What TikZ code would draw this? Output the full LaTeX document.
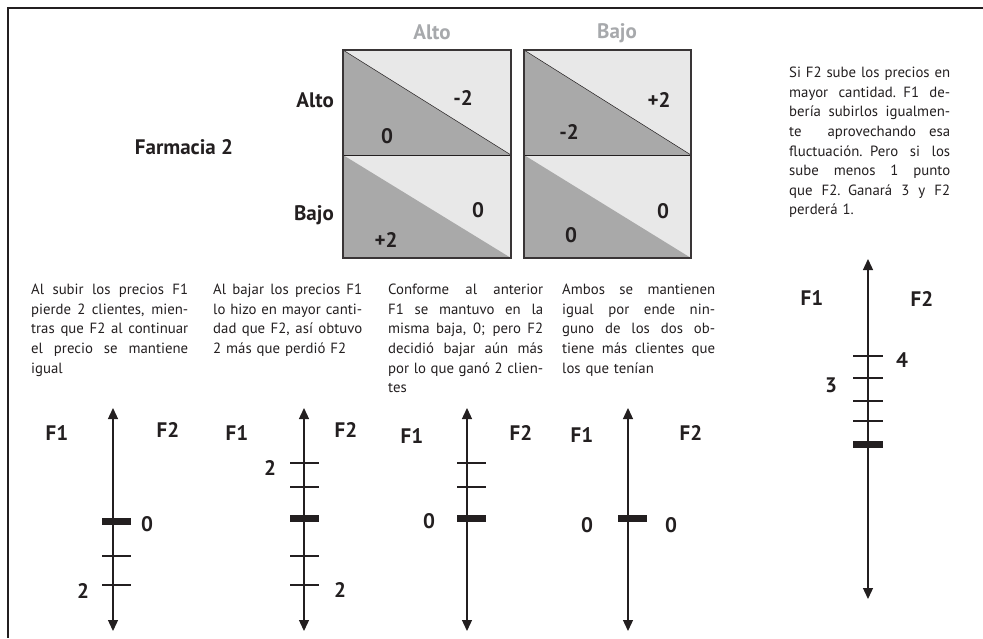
\documentclass[tikz,border=0pt]{standalone}
\usepackage{fontspec}
\setmainfont{PT Sans}
\usetikzlibrary{arrows.meta}
\definecolor{ink}{HTML}{231F20}
\definecolor{lightc}{HTML}{E8E8E8}
\definecolor{darkc}{HTML}{A9A9A9}
\definecolor{headc}{HTML}{A7A9AC}
\newcommand{\jline}[1]{\hbox to \hsize{\spaceskip=0.25em plus 1fil\relax #1}}
\tikzset{
  big/.style={font=\fontsize{21}{24}\selectfont\bfseries, text=ink, inner sep=0pt},
  head/.style={big, text=headc},
  para/.style={anchor=north west, inner sep=0pt, align=left, text=ink,
    font=\fontsize{14.8}{19.6}\selectfont},
  axis/.style={draw=ink, line width=1.3pt, {Triangle[width=10pt,length=11pt]}-{Triangle[width=10pt,length=11pt]}},
  tick/.style={draw=ink, line width=2pt},
  bar/.style={draw=ink, line width=7pt},
  boxline/.style={draw=ink!90, line width=2pt},
  frame/.style={draw=ink, line width=1.3pt}
}
\begin{document}
\begin{tikzpicture}[x=1pt,y=-1pt]
\useasboundingbox (0,0) rectangle (983,638);
% frame
\coordinate (ftl) at (8,8);
\coordinate (ftr) at (983,8);
\coordinate (fbl) at (8,638);
\draw[frame] (ftr) -- (ftl) -- (fbl);

% matrix left box
\fill[lightc] (343,50) rectangle (511,258);
\fill[darkc] (343,50) -- (511,155) -- (343,155) -- cycle;
\fill[darkc] (343,155) -- (511,258) -- (343,258) -- cycle;
\draw[ink, line width=0.5pt] (343,50) -- (511,155);
\draw[ink, line width=1pt] (343,155) -- (511,155);
\draw[boxline] (343,50) rectangle (511,258);
% matrix right box
\fill[lightc] (524,50) rectangle (691,258);
\fill[darkc] (524,50) -- (691,155) -- (524,155) -- cycle;
\fill[darkc] (524,155) -- (691,258) -- (524,258) -- cycle;
\draw[ink, line width=0.5pt] (524,50) -- (691,155);
\draw[ink, line width=1pt] (524,155) -- (691,155);
\draw[boxline] (524,50) rectangle (691,258);

% headers
\node[head] (hA) at (432,32) {Alto};
\node[head] (hB) at (617,33) {Bajo};
\node[big, anchor=east] (rA) at (334,100) {Alto};
\node[big, anchor=east] (rB) at (334,215) {Bajo};
\node[big] (farm) at (184,147) {Farmacia 2};

% values
\node[big] (v1) at (463,98) {-2};
\node[big] (v2) at (387,136) {0};
\node[big] (v3) at (659,100) {+2};
\node[big] (v4) at (569,132) {-2};
\node[big] (v5) at (478,210) {0};
\node[big] (v6) at (386,240) {+2};
\node[big] (v7) at (663,211) {0};
\node[big] (v8) at (571,235) {0};

% right paragraph
\node[para, text width=161pt] (pR) at (789,67) {%
\jline{Si F2 sube los precios en}
\jline{mayor cantidad. F1 de-}
\jline{bería subirlos igualmen-}
\jline{te \ aprovechando esa}
\jline{fluctuación. Pero si los}
\jline{sube menos 1 punto}
\jline{que F2. Ganará 3 y F2}
perderá 1.};

% column texts
\node[para, text width=157pt] (p1) at (31,284) {%
\jline{Al subir los precios F1}
\jline{pierde 2 clientes, mien-}
\jline{tras que F2 al continuar}
\jline{el precio se mantiene}
igual};
\node[para, text width=149pt] (p2) at (213,284) {%
\jline{Al bajar los precios F1}
\jline{lo hizo en mayor canti-}
\jline{dad que F2, así obtuvo}
2 más que perdió F2};
\node[para, text width=155pt] (p3) at (388,284) {%
\jline{Conforme al anterior}
\jline{F1 se mantuvo en la}
\jline{misma baja, 0; pero F2}
\jline{decidió bajar aún más}
\jline{por lo que ganó 2 clien-}
tes};
\node[para, text width=153pt] (p4) at (562,284) {%
\jline{Ambos se mantienen}
\jline{igual por ende nin-}
\jline{guno de los dos ob-}
\jline{tiene más clientes que}
los que tenían};

% axis 1
\coordinate (a1t) at (113,408);
\coordinate (a1b) at (113,631);
\draw[axis] (a1b) -- (a1t);
\draw[bar] (102,521) -- (131,521);
\draw[tick] (102,556) -- (131,556);
\draw[tick] (102,585) -- (131,585);
\node[big] (a1f1) at (57,433) {F1};
\node[big] (a1f2) at (168,430) {F2};
\node[big] (a1z) at (147,524) {0};
\node[big] (a1t2) at (83,591) {2};

% axis 2
\coordinate (a2t) at (304,408);
\coordinate (a2b) at (304,631);
\draw[axis] (a2b) -- (a2t);
\draw[tick] (290,463) -- (319,463);
\draw[tick] (290,487) -- (319,487);
\draw[bar] (290,518) -- (319,518);
\draw[tick] (290,556) -- (319,556);
\draw[tick] (290,585) -- (319,585);
\node[big] (a2f1) at (237,433) {F1};
\node[big] (a2f2) at (346,430) {F2};
\node[big] (a2u) at (270,468) {2};
\node[big] (a2d) at (340,590) {2};

% axis 3
\coordinate (a3t) at (467,408);
\coordinate (a3b) at (467,631);
\draw[axis] (a3b) -- (a3t);
\draw[tick] (457,463) -- (486,463);
\draw[tick] (457,487) -- (486,487);
\draw[bar] (457,518) -- (486,518);
\node[big] (a3f1) at (412,436) {F1};
\node[big] (a3f2) at (521,433) {F2};
\node[big] (a3z) at (429,521) {0};

% axis 4
\coordinate (a4t) at (628,408);
\coordinate (a4b) at (628,631);
\draw[axis] (a4b) -- (a4t);
\draw[bar] (618,518) -- (647,518);
\node[big] (a4f1) at (582,435) {F1};
\node[big] (a4f2) at (691,433) {F2};
\node[big] (a4z1) at (587,525) {0};
\node[big] (a4z2) at (671,525) {0};

% axis 5
\coordinate (a5t) at (868,259);
\coordinate (a5b) at (868,599);
\draw[axis] (a5b) -- (a5t);
\draw[tick] (853,356) -- (883,356);
\draw[tick] (853,378) -- (883,378);
\draw[tick] (853,401) -- (883,401);
\draw[tick] (853,421) -- (883,421);
\draw[bar] (853,444) -- (883,444);
\node[big] (a5f1) at (812,298) {F1};
\node[big] (a5f2) at (922,299) {F2};
\node[big] (a5n4) at (902,360) {4};
\node[big] (a5n3) at (831,385) {3};
\end{tikzpicture}
\end{document}
